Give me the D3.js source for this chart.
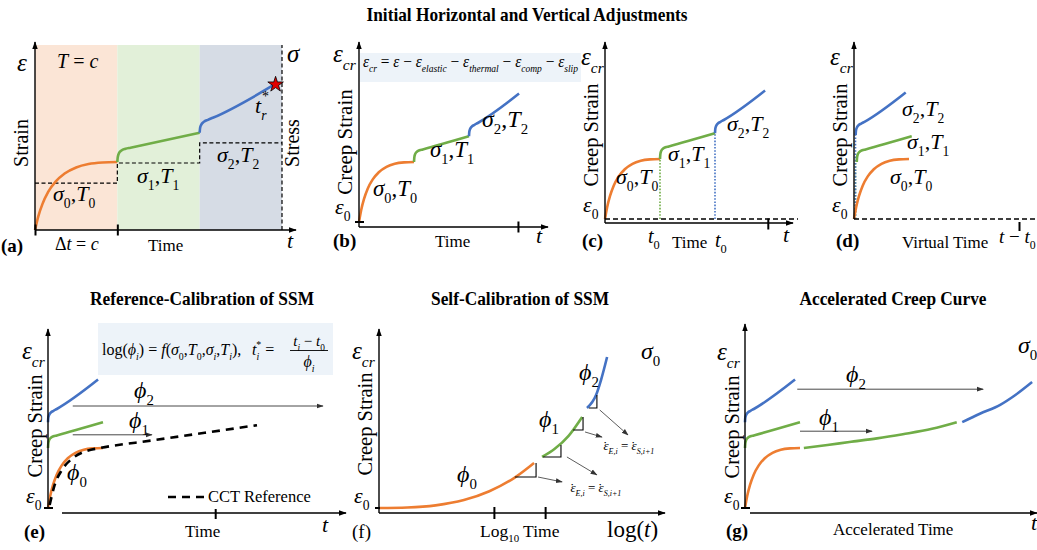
<!DOCTYPE html>
<html><head><meta charset="utf-8">
<script src="https://cdn.jsdelivr.net/npm/d3@7"></script>
<style>body{margin:0;background:#fff}svg{display:block}</style>
</head><body>
<svg id="fig" width="1037" height="550"></svg>
<script>
const FONT = "'Liberation Serif','Times New Roman',serif";
const STAGE_COLORS = ['#ED7D31', '#70AD47', '#4472C4'];
const STAGE_BG = ['#FBE5D6', '#E2F0D9', '#D6DCE5'];

// Stage curve shapes: [time since stage start, creep strain gained]
const primaryShape   = [[0,0],[0.04,0.2],[0.09,0.38],[0.16,0.56],[0.25,0.71],[0.36,0.83],[0.5,0.92],[0.65,0.97],[0.82,0.993],[1,1]];
const secondaryShape = [[0,0],[0.005,0.07],[0.02,0.13],[0.05,0.17],[0.1,0.195],[0.16,0.21],[1,0.43]];
const tertiaryShape  = [[0,0],[0.005,0.07],[0.02,0.12],[0.05,0.16],[0.1,0.19],[0.16,0.22],[0.91,0.71]];
const stageShapes = [primaryShape, secondaryShape, tertiaryShape];

// Stage start points [time, strain] for each panel
const stagesSeq     = [[0,0],[1,1],[2,1.43]];         // (a), (b), (c)
const stagesVirtual = [[0,0],[0.05,0.95],[0.03,1.4]]; // (d)
const stagesStacked = [[0,0],[0,1],[0,1.43]];         // (e), (g)

// (a) stress history levels per stage
const stressLevels = [0.69, 0.985, 1.28];

// (e) CCT reference curve and shift-factor arrows [t start, t end, strain]
const cctReference = [[0.03,0.05],[0.12,0.38],[0.25,0.63],[0.45,0.83],[0.7,0.95],[0.95,1.0],[1.9,1.127],[2.85,1.253],[3.8,1.38]];
const shiftArrowsE = [[0.45,5.0,1.7],[0.45,1.89,1.22]];

// (f) log-time self calibration
const logPrimary   = [[0,0],[1.0,0.03],[2.0,0.15],[3.0,0.45],[3.9,0.95],[4.77,1.7],[5.48,2.56]];
const logSecondary = [[5.76,2.9],[6.2,3.35],[6.7,4.1],[7.18,5.17]];
const logTertiary  = [[7.35,5.68],[7.67,6.42],[7.85,7.3],[8.06,8.58]];
const slopeTriangles = [[4.8,5.55,1.76,2.56],[5.8,6.43,2.9,3.58],[6.86,7.21,4.43,5.17],[7.42,7.7,5.68,6.42]];
const rateArrows = [[5.62,1.76,6.47,1.48],[6.64,2.9,7.7,1.88],[7.28,4.32,7.88,4.03],[7.8,5.57,8.8,4.15]];
const logTicks = [4.06, 5.87];

// (g) accelerated creep curve
const accelSecondary = [[1.07,1.0],[1.5,1.05],[1.9,1.1],[2.4,1.16],[2.87,1.23],[3.4,1.32],[3.85,1.43]];
const accelTertiary  = [[3.95,1.43],[4.27,1.57],[4.64,1.72],[4.91,1.88],[5.22,2.1]];
const shiftArrowsG = [[0.95,4.33,1.98],[1.0,2.31,1.28]];

const svg = d3.select('#fig');
const defs = svg.append('defs');
function marker(id, color, size) {
  defs.append('marker').attr('id', id).attr('viewBox', '0 0 10 10')
    .attr('refX', 9).attr('refY', 5).attr('markerWidth', size).attr('markerHeight', size)
    .attr('markerUnits', 'userSpaceOnUse').attr('orient', 'auto')
    .append('path').attr('d', 'M0,1.5L10,5L0,8.5Z').attr('fill', color);
}
marker('axisHead', '#000', 8);
marker('thinHead', '#333', 7);

function mtext(parent, x, y, parts, size, o = {}) {
  const t = parent.append('text').attr('x', x).attr('y', y)
    .attr('font-family', FONT).attr('font-size', size)
    .attr('text-anchor', o.anchor || 'start').attr('fill', o.fill || '#000');
  if (o.weight) t.attr('font-weight', o.weight);
  if (o.rotate) t.attr('transform', `rotate(${o.rotate},${x},${y})`);
  if (o.length) t.attr('textLength', o.length).attr('lengthAdjust', 'spacingAndGlyphs');
  let cur = 0;
  for (const [s, k, dx] of parts) {
    const sub = k.includes('b'), sup = k.includes('p');
    const off = sub ? size * 0.3 : sup ? -size * 0.45 : 0;
    const ts = t.append('tspan').text(s).attr('dy', off - cur)
      .attr('font-size', (sub || sup) ? size * 0.62 : size)
      .attr('font-style', k[0] === 'i' ? 'italic' : 'normal');
    if (dx) ts.attr('dx', dx);
    cur = off;
  }
  return t;
}
const txt = (parent, x, y, s, size, o = {}) => mtext(parent, x, y, [[s, o.italic ? 'i' : 'r']], size, o);
const sigmaT = i => [['σ','i'],[String(i),'rb'],[',','r'],['T','i'],[String(i),'rb']];
const epsCr = [['ε','i'],['cr','ib']];
const eps0 = [['ε','i'],['0','rb']];
const phi = i => [['ϕ','i'],[String(i),'rb']];

function line(g, x1, y1, x2, y2, o = {}) {
  const l = g.append('line').attr('x1', x1).attr('y1', y1).attr('x2', x2).attr('y2', y2)
    .attr('stroke', o.color || '#000').attr('stroke-width', o.w || 1.3);
  if (o.dash) l.attr('stroke-dasharray', o.dash);
  if (o.head) l.attr('marker-end', `url(#${o.head})`);
  return l;
}
function curve(g, sc, pts, color, o = {}) {
  const gen = d3.line().x(d => sc.x(d[0])).y(d => sc.y(d[1])).curve(d3.curveMonotoneX);
  const p = g.append('path').attr('d', gen(pts)).attr('fill', 'none')
    .attr('stroke', color).attr('stroke-width', o.w || 2.6).attr('stroke-linecap', o.cap || 'butt');
  if (o.dash) p.attr('stroke-dasharray', o.dash);
  return p;
}
function stageCurves(g, sc, starts) {
  starts.forEach((s, i) => {
    const pts = stageShapes[i].map(([t, e]) => [s[0] + t, s[1] + e]);
    curve(g, sc, pts, STAGE_COLORS[i]);
  });
}
function ticks(g, sc, values, yPix, len) {
  const ax = d3.axisBottom(sc.x).tickValues(values).tickFormat('').tickSizeInner(len).tickSizeOuter(0);
  const a = g.append('g').attr('transform', `translate(0,${yPix - len / 2})`).call(ax);
  a.select('.domain').remove();
  a.selectAll('line').attr('stroke', '#000').attr('stroke-width', 2);
}
const scales = (xd, xr, yd, yr) => ({x: d3.scaleLinear(xd, xr), y: d3.scaleLinear(yd, yr)});

// ---------- Titles ----------
txt(svg, 527, 21, 'Initial Horizontal and Vertical Adjustments', 19, {anchor: 'middle', weight: 'bold', length: 321});
txt(svg, 202, 305, 'Reference-Calibration of SSM', 18.5, {anchor: 'middle', weight: 'bold', length: 224});
txt(svg, 520, 305, 'Self-Calibration of SSM', 18.5, {anchor: 'middle', weight: 'bold', length: 178});
txt(svg, 893, 305, 'Accelerated Creep Curve', 18.5, {anchor: 'middle', weight: 'bold', length: 187});

// ---------- (a) strain and stress history ----------
{
  const g = svg.append('g');
  const sc = scales([0, 3], [35, 282], [0, 1], [230, 162]);
  const top = sc.y.invert(45);
  [[0,1],[1,2],[2,3]].forEach(([t0, t1], i) => g.append('rect')
    .attr('x', sc.x(t0)).attr('y', sc.y(top)).attr('width', sc.x(t1) - sc.x(t0))
    .attr('height', sc.y(0) - sc.y(top)).attr('fill', STAGE_BG[i]));
  const stressPts = stressLevels.map((s, i) => [i, s]).concat([[3, stressLevels[2]]]);
  g.append('path').attr('d', d3.line().x(d => sc.x(d[0])).y(d => sc.y(d[1])).curve(d3.curveStepAfter)(stressPts))
    .attr('fill', 'none').attr('stroke', '#000').attr('stroke-width', 1.2).attr('stroke-dasharray', '4,2.5');
  line(g, sc.x(3), sc.y(0), sc.x(3), 45, {w: 1.2, dash: '4,2.5'});
  stageCurves(g, sc, stagesSeq);
  const last = tertiaryShape[tertiaryShape.length - 1];
  const end = [stagesSeq[2][0] + last[0], stagesSeq[2][1] + last[1]];
  g.append('path').attr('d', d3.symbol(d3.symbolStar, 75)()).attr('transform', `translate(${sc.x(end[0]) + 1},${sc.y(end[1])})`)
    .attr('fill', '#E00000').attr('stroke', '#000').attr('stroke-width', 0.8);
  line(g, 35, 230, 35, 42, {w: 1.4, head: 'axisHead'});
  line(g, 35, 230, 296, 230, {w: 1.4, head: 'axisHead'});
  ticks(g, sc, [0, 1], 230, 11);
  mtext(g, 17, 71, [['ε','i']], 25);
  mtext(g, 287, 62, [['σ','i']], 25);
  mtext(g, 57, 68, [['T','i'],[' = ','r'],['c','i']], 20);
  txt(g, 28, 143, 'Strain', 20, {anchor: 'middle', rotate: -90});
  txt(g, 299, 143, 'Stress', 20, {anchor: 'middle', rotate: -90});
  mtext(g, 53, 201, sigmaT(0), 22);
  mtext(g, 137, 183, sigmaT(1), 22);
  mtext(g, 217, 162, sigmaT(2), 22);
  mtext(g, 255, 113, [['t','i'],['r','ib']], 22);
  mtext(g, 262, 101, [['*','r']], 14);
  txt(g, 1, 252, '(a)', 19, {weight: 'bold'});
  mtext(g, 55, 250, [['Δ','r'],['t','i'],[' = ','r'],['c','i']], 18);
  txt(g, 148, 251, 'Time', 17);
  mtext(g, 287, 248, [['t','i']], 22);
}

// ---------- (b) creep strain ----------
{
  const g = svg.append('g');
  const sc = scales([0, 1], [359, 414], [0, 1], [222, 162]);
  g.append('rect').attr('x', 360).attr('y', 53).attr('width', 221).attr('height', 29).attr('fill', '#EDF3F9');
  mtext(g, 363, 67, [['ε','i'],['cr','ib'],[' = ','r'],['ε','i'],[' − ','r'],['ε','i'],['elastic','ib'],[' − ','r'],
    ['ε','i'],['thermal','ib'],[' − ','r'],['ε','i'],['comp','ib'],[' − ','r'],['ε','i'],['slip','ib']], 17, {length: 215});
  stageCurves(g, sc, stagesSeq);
  line(g, 359, 227, 359, 42, {w: 1.4, head: 'axisHead'});
  line(g, 359, 227, 548, 227, {w: 1.4, head: 'axisHead'});
  line(g, 355, 222, 364, 222, {w: 2});
  ticks(g, sc, [2.89], 227, 11);
  mtext(g, 333, 62, epsCr, 25);
  mtext(g, 335, 214, eps0, 22);
  txt(g, 352, 142, 'Creep Strain', 21, {anchor: 'middle', rotate: -90});
  mtext(g, 373, 196, sigmaT(0), 23);
  mtext(g, 430, 157, sigmaT(1), 23);
  mtext(g, 482, 127, sigmaT(2), 24);
  txt(g, 333, 247, '(b)', 19, {weight: 'bold'});
  txt(g, 435, 247, 'Time', 17);
  mtext(g, 536, 243, [['t','i']], 22);
}

// ---------- (c) horizontal adjustment ----------
{
  const g = svg.append('g');
  const sc = scales([0, 1], [605, 660], [0, 1], [219, 159]);
  stagesSeq.slice(1).forEach((s, i) => line(g, sc.x(s[0]), sc.y(0), sc.x(s[0]), sc.y(s[1]),
    {color: STAGE_COLORS[i + 1], w: 1.6, dash: '1.6,1.6'}));
  stageCurves(g, sc, stagesSeq);
  line(g, 605, 223, 605, 42, {w: 1.4, head: 'axisHead'});
  line(g, 605, 223, 793, 223, {w: 1.4, head: 'axisHead'});
  line(g, 605, 219, 798, 219, {w: 1.6, dash: '5,3'});
  ticks(g, sc, [2.96], 224, 11);
  mtext(g, 581, 65, epsCr, 25);
  mtext(g, 583, 212, eps0, 22);
  txt(g, 598, 135, 'Creep Strain', 20.5, {anchor: 'middle', rotate: -90});
  mtext(g, 616, 184, sigmaT(0), 22);
  mtext(g, 668, 161, sigmaT(1), 22);
  mtext(g, 727, 131, sigmaT(2), 22);
  txt(g, 582, 247, '(c)', 19, {weight: 'bold'});
  mtext(g, 648, 243, [['t','i'],['0','rb']], 20);
  txt(g, 672, 248, 'Time', 17);
  mtext(g, 715, 247, [['t','i'],['0','rb']], 20);
  mtext(g, 783, 242, [['t','i']], 22);
}

// ---------- (d) vertical adjustment, virtual time ----------
{
  const g = svg.append('g');
  const sc = scales([0, 1], [854, 909], [0, 1], [219, 159]);
  stagesVirtual.slice(1).forEach((s, i) => line(g, sc.x(0) + 1.5, sc.y(0), sc.x(0) + 1.5, sc.y(s[1]),
    {color: STAGE_COLORS[i + 1], w: 1.6, dash: '1.6,1.6'}));
  stageCurves(g, sc, stagesVirtual);
  line(g, 854, 219, 854, 42, {w: 1.4, head: 'axisHead'});
  line(g, 854, 219, 1037, 219, {w: 1.6, dash: '5,3'});
  ticks(g, sc, [3.0], 226.5, 9);
  mtext(g, 830, 65, epsCr, 25);
  mtext(g, 832, 212, eps0, 22);
  txt(g, 847, 135, 'Creep Strain', 20.5, {anchor: 'middle', rotate: -90});
  mtext(g, 902, 116, sigmaT(2), 22);
  mtext(g, 907, 149, sigmaT(1), 22);
  mtext(g, 890, 184, sigmaT(0), 22);
  txt(g, 836, 247, '(d)', 19, {weight: 'bold'});
  txt(g, 902, 248, 'Virtual Time', 17);
  mtext(g, 999, 243, [['t','i'],[' − ','r'],['t','i'],['0','rb']], 19);
}

// ---------- (e) reference calibration ----------
{
  const g = svg.append('g');
  const sc = scales([0, 1], [48, 103], [0, 1], [508, 448]);
  g.append('rect').attr('x', 98).attr('y', 323).attr('width', 235).attr('height', 52).attr('fill', '#EDF3F9');
  mtext(g, 102, 355, [['log','r'],['(','r'],['ϕ','i'],['i','ib'],[')','r'],[' = ','r'],['f','i'],['(','r'],
    ['σ','i'],['0','rb'],[',','r'],['T','i'],['0','rb'],[',','r'],['σ','i'],['i','ib'],[',','r'],['T','i'],['i','ib'],['),','r']], 16);
  mtext(g, 252, 355, [['t','i'],['i','ib'],['*','rp', -3],[' = ','r']], 16);
  mtext(g, 309, 346, [['t','i'],['i','ib'],[' − ','r'],['t','i'],['0','rb']], 15, {anchor: 'middle'});
  line(g, 290, 350.5, 328, 350.5, {w: 0.9});
  mtext(g, 309, 367, [['ϕ','i'],['i','ib']], 16, {anchor: 'middle'});
  stageCurves(g, sc, stagesStacked);
  curve(g, sc, cctReference, '#000', {w: 2.6, dash: '8,6'});
  shiftArrowsE.forEach(([t0, t1, e]) => line(g, sc.x(t0), sc.y(e), sc.x(t1), sc.y(e), {color: '#333', w: 0.9, head: 'thinHead'}));
  line(g, 48, 508, 48, 329, {w: 1.4, head: 'axisHead'});
  line(g, 62, 513, 346, 513, {w: 1.4, head: 'axisHead'});
  line(g, 44, 508, 53, 508, {w: 2});
  ticks(g, sc, [3.04], 514, 10);
  mtext(g, 22, 359, epsCr, 25);
  mtext(g, 26, 503, eps0, 22);
  txt(g, 42, 426, 'Creep Strain', 20.5, {anchor: 'middle', rotate: -90});
  mtext(g, 134, 398, phi(2), 24);
  mtext(g, 129, 428, phi(1), 24);
  mtext(g, 67, 480, phi(0), 24);
  line(g, 168, 497, 205, 497, {w: 2.6, dash: '8,6'});
  txt(g, 208, 502, 'CCT Reference', 16.5);
  txt(g, 24, 538, '(e)', 19, {weight: 'bold'});
  txt(g, 185, 537, 'Time', 17);
  mtext(g, 322, 532, [['t','i']], 22);
}

// ---------- (f) self calibration in log time ----------
{
  const g = svg.append('g');
  const sc = scales([0, 10], [379, 662], [0, 10], [508, 332]);
  curve(g, sc, logPrimary, STAGE_COLORS[0]);
  curve(g, sc, logSecondary, STAGE_COLORS[1]);
  curve(g, sc, logTertiary, STAGE_COLORS[2]);
  slopeTriangles.forEach(([x1, x2, y1, y2]) => g.append('path')
    .attr('d', `M${sc.x(x1)},${sc.y(y1)}H${sc.x(x2)}V${sc.y(y2)}`)
    .attr('fill', 'none').attr('stroke', '#000').attr('stroke-width', 1.1));
  rateArrows.forEach(([x1, y1, x2, y2]) => line(g, sc.x(x1), sc.y(y1), sc.x(x2), sc.y(y2), {color: '#333', w: 0.8, head: 'thinHead'}));
  // strain-rate continuity: dot-accented epsilon written with a spacing dot above
  const rateEq = [['ε','i'],['˙','r',-5.6],['E,i','ib',1.2],[' = ','r'],['ε','i'],['˙','r',-5.6],['S,i+1','ib',1.2]];
  mtext(g, 570, 492, rateEq, 13);
  mtext(g, 603, 450, rateEq, 13);
  line(g, 379, 513, 379, 329, {w: 1.4, head: 'axisHead'});
  line(g, 379, 513, 665, 513, {w: 1.4, head: 'axisHead'});
  line(g, 375, 508, 380, 508, {w: 2});
  ticks(g, sc, logTicks, 513, 12);
  mtext(g, 352, 359, epsCr, 25);
  mtext(g, 354, 503, eps0, 22);
  txt(g, 372, 424, 'Creep Strain', 20.5, {anchor: 'middle', rotate: -90});
  mtext(g, 641, 359, [['σ','i'],['0','rb']], 24);
  mtext(g, 579, 380, phi(2), 24);
  mtext(g, 539, 427, phi(1), 24);
  mtext(g, 457, 482, phi(0), 24);
  txt(g, 352, 538, '(f)', 19);
  mtext(g, 480, 537, [['Log','r'],['10','rb'],[' Time','r']], 17.5);
  mtext(g, 607, 537, [['log','r'],['(','r'],['t','i'],[')','r']], 23);
}

// ---------- (g) accelerated creep curve ----------
{
  const g = svg.append('g');
  const sc = scales([0, 1], [745, 800], [0, 1], [508, 448]);
  stageCurves(g, sc, stagesStacked);
  curve(g, sc, accelSecondary, STAGE_COLORS[1]);
  curve(g, sc, accelTertiary, STAGE_COLORS[2]);
  shiftArrowsG.forEach(([t0, t1, e]) => line(g, sc.x(t0), sc.y(e), sc.x(t1), sc.y(e), {color: '#333', w: 0.9, head: 'thinHead'}));
  line(g, 745, 508, 745, 324, {w: 1.4, head: 'axisHead'});
  line(g, 750, 513, 1037, 513, {w: 1.4, head: 'axisHead'});
  line(g, 741, 508, 750, 508, {w: 2});
  mtext(g, 717, 360, epsCr, 25);
  mtext(g, 724, 503, eps0, 22);
  txt(g, 739, 427, 'Creep Strain', 20.5, {anchor: 'middle', rotate: -90});
  mtext(g, 1018, 353, [['σ','i'],['0','rb']], 24);
  mtext(g, 846, 382, phi(2), 24);
  mtext(g, 819, 425, phi(1), 24);
  txt(g, 726, 537, '(g)', 19, {weight: 'bold'});
  txt(g, 833, 535, 'Accelerated Time', 17);
  mtext(g, 1031, 530, [['t','i']], 22);
}
</script>
</body></html>
